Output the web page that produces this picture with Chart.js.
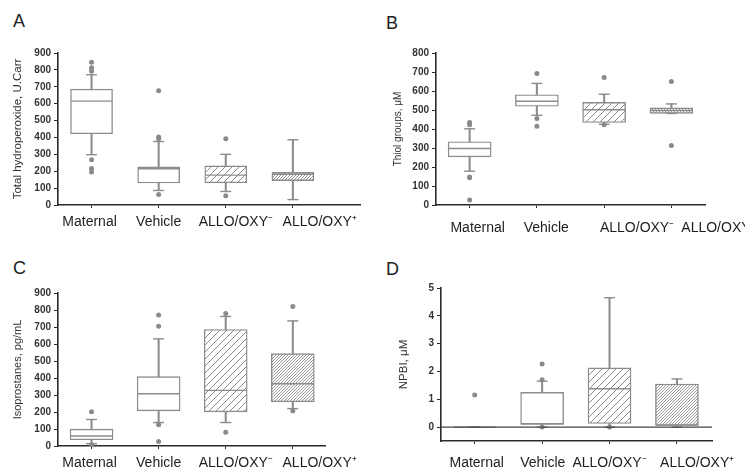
<!DOCTYPE html>
<html>
<head>
<meta charset="utf-8">
<script src="https://cdn.jsdelivr.net/npm/chart.js@4.4.0/dist/chart.umd.min.js"></script>
<style>
  body { margin: 0; background: #fff; }
  #wrap { position: relative; width: 745px; height: 469px; background: #fff; overflow: hidden; }
  #wrap canvas { position: absolute; }
  .letter { position: absolute; font: 18px "Liberation Sans", Arial, sans-serif; color: #222; line-height: 1; }
</style>
</head>
<body>
<div id="wrap">
  <div class="letter" style="left:13px; top:12px;">A</div>
  <div class="letter" style="left:386px; top:14px;">B</div>
  <div class="letter" style="left:13px; top:259px;">C</div>
  <div class="letter" style="left:386px; top:260px;">D</div>
  <canvas id="chartA" width="372" height="240" style="left:0; top:0;"></canvas>
  <canvas id="chartB" width="373" height="240" style="left:372px; top:0;"></canvas>
  <canvas id="chartC" width="372" height="240" style="left:0; top:235px;"></canvas>
  <canvas id="chartD" width="373" height="240" style="left:372px; top:235px;"></canvas>
</div>
<script>
// Group names on the x axis
const categories = ['Maternal', 'Vehicle', 'ALLO/OXY\u207B', 'ALLO/OXY\u207A'];

// A - total hydroperoxide (U.Carr)
const hpLow = [298, 86, 80, 32];
const hpQ1 = [422, 130, 132, 144];
const hpMedian = [615, 215, 177, 182];
const hpQ3 = [686, 226, 232, 193];
const hpHigh = [771, 376, 300, 386];
const hpOutliers = [[845, 812, 792, 268, 216, 196], [676, 402, 392, 62], [392, 55], []];

// B - thiol groups (uM)
const thLow = [178, 472, 425, 482];
const thQ1 = [253, 520, 434, 482];
const thMedian = [297, 546, 501, 497];
const thQ3 = [333, 580, 540, 511];
const thHigh = [401, 640, 583, 532];
const thOutliers = [[434, 422, 148, 143, 26], [692, 455, 415], [671, 422], [650, 313]];

// C - isoprostanes (pg/mL)
const isoLow = [14, 138, 138, 220];
const isoQ1 = [37, 207, 201, 260];
const isoMedian = [59, 307, 327, 366];
const isoQ3 = [99, 408, 685, 543];
const isoHigh = [156, 630, 762, 736];
const isoOutliers = [[201, 8], [770, 705, 125, 26], [780, 81], [821, 207]];

// D - NPBI (uM)
const npLow = [0, 0, 0, 0];
const npQ1 = [0, 0.1, 0.13, 0.06];
const npMedian = [0, 0.12, 1.38, 0.07];
const npQ3 = [0, 1.25, 2.13, 1.55];
const npHigh = [0, 1.65, 4.65, 1.73];
const npOutliers = [[1.15], [2.27, 1.7, 0], [0], []];

const boxGray = '#8c8c8c';
const axisColor = '#2a2a2a';
const fontFamily = '"Liberation Sans", Arial, sans-serif';

// Function to make a diagonal hatch pattern
function makeHatch(size, color, lineWidth) {
    const c = document.createElement('canvas');
    c.width = size;
    c.height = size;
    const g = c.getContext('2d');
    g.fillStyle = '#fff';
    g.fillRect(0, 0, size, size);
    g.strokeStyle = color;
    g.lineWidth = lineWidth;
    g.beginPath();
    g.moveTo(-1, size + 1);
    g.lineTo(size + 1, -1);
    g.moveTo(-1, 1);
    g.lineTo(1, -1);
    g.moveTo(size - 1, size + 1);
    g.lineTo(size + 1, size - 1);
    g.stroke();
    return g.createPattern(c, 'repeat');
}

const sparseHatch = makeHatch(7, '#8a8a8a', 1);
const denseHatch = makeHatch(3, '#8a8a8a', 0.9);
const boxFills = ['#ffffff', '#ffffff', sparseHatch, denseHatch];

// Function to build one box plot panel
function drawBoxPanel(canvasId, p) {
    const ctx = document.getElementById(canvasId).getContext('2d');
    const pos = categories.map((c, i) => i + 1);

    const datasets = [
        {
            // whiskers
            type: 'bar',
            data: pos.map((x, i) => ({ x: x, y: [p.low[i], p.high[i]] })),
            backgroundColor: boxGray,
            borderWidth: 0,
            barThickness: 1.4,
            grouped: false,
            order: 6
        },
        {
            // boxes
            type: 'bar',
            data: pos.map((x, i) => ({ x: x, y: [p.q1[i], p.q3[i]] })),
            backgroundColor: boxFills,
            borderColor: boxGray,
            borderWidth: 1.4,
            borderSkipped: false,
            barThickness: p.boxWidth,
            grouped: false,
            order: 5
        },
        {
            // medians
            type: 'line',
            data: pos.map((x, i) => ({ x: x, y: p.median[i] })),
            showLine: false,
            pointStyle: 'line',
            pointRadius: p.boxWidth / 2 - 0.5,
            pointBorderColor: boxGray,
            pointBorderWidth: 1.4,
            order: 4
        },
        {
            // whisker caps
            type: 'line',
            data: pos.flatMap((x, i) => [{ x: x, y: p.low[i] }, { x: x, y: p.high[i] }]),
            showLine: false,
            pointStyle: 'line',
            pointRadius: 5.5,
            pointBorderColor: boxGray,
            pointBorderWidth: 1.4,
            order: 4
        },
        {
            // outliers
            type: 'line',
            data: pos.flatMap((x, i) => p.outliers[i].map(v => ({ x: x, y: v }))),
            showLine: false,
            pointStyle: 'circle',
            pointRadius: 2.5,
            pointBackgroundColor: '#8a8a8a',
            pointBorderWidth: 0,
            order: 3
        }
    ];

    if (p.zeroLine) {
        datasets.push({
            type: 'line',
            data: [{ x: 0.5, y: 0 }, { x: p.xMax, y: 0 }],
            borderColor: '#444',
            borderWidth: 1.3,
            pointRadius: 0,
            order: 1
        });
    }

    // keep the chart area fixed, whatever the label widths
    const noSidePadding = scale => {
        scale.paddingLeft = 0;
        scale.paddingRight = 0;
    };

    return new Chart(ctx, {
        type: 'bar',
        data: { datasets: datasets },
        options: {
            responsive: false,
            animation: false,
            events: [],
            layout: { autoPadding: false, padding: { left: 0, top: p.top, right: p.right, bottom: 0 } },
            plugins: { legend: { display: false }, tooltip: { enabled: false } },
            scales: {
                x: {
                    type: 'linear',
                    min: 0.5,
                    max: p.xMax,
                    offset: false,
                    weight: 0,
                    afterBuildTicks: scale => {
                        scale.ticks = pos.map(v => ({ value: v }));
                    },
                    afterFit: scale => {
                        scale.height = 3;
                        noSidePadding(scale);
                    },
                    ticks: { callback: () => '', padding: 0 },
                    grid: { offset: false, drawOnChartArea: false, tickLength: 3, color: axisColor, lineWidth: 1 },
                    border: { color: axisColor, width: 1.6 }
                },
                // second bottom axis that only carries the group names;
                // the figure sets them a little right of the tick marks
                names: {
                    type: 'linear',
                    position: 'bottom',
                    min: 0.5,
                    max: p.xMax,
                    offset: false,
                    weight: 1,
                    afterBuildTicks: scale => {
                        scale.ticks = pos.map((v, i) => ({ value: v + p.labelShift[i] }));
                    },
                    afterFit: scale => {
                        scale.height = p.xHeight - 3;
                        noSidePadding(scale);
                    },
                    ticks: {
                        callback: (v, i) => categories[i],
                        autoSkip: false,
                        maxRotation: 0,
                        padding: p.labelPad,
                        color: '#1e1e1e',
                        font: { family: fontFamily, size: 14 }
                    },
                    grid: { display: false, drawTicks: false },
                    border: { display: false }
                },
                y: {
                    min: p.yMin,
                    max: p.yMax,
                    afterBuildTicks: scale => {
                        scale.ticks = scale.ticks.filter(t => t.value >= 0);
                    },
                    afterFit: scale => {
                        scale.width = p.yWidth;
                    },
                    ticks: {
                        stepSize: p.step,
                        padding: 3,
                        color: '#333',
                        font: { family: fontFamily, size: 10, weight: 'bold' }
                    },
                    grid: { drawOnChartArea: false, tickLength: 4, color: axisColor, lineWidth: 1 },
                    border: { color: axisColor, width: 1.6 },
                    title: {
                        display: true,
                        text: p.title,
                        color: '#333',
                        font: { family: fontFamily, size: p.titleSize },
                        padding: { top: p.titlePad, bottom: 0 }
                    }
                }
            }
        }
    });
}

drawBoxPanel('chartA', {
    low: hpLow, q1: hpQ1, median: hpMedian, q3: hpQ3, high: hpHigh, outliers: hpOutliers,
    title: 'Total hydroperoxide, U.Carr', titleSize: 11.5, titlePad: 10.5,
    yMin: 0, yMax: 900, step: 100,
    top: 53, right: 12, yWidth: 58, xHeight: 35, xMax: 5.0, boxWidth: 42,
    labelShift: [-0.03, 0, 0.15, 0.4], labelPad: 5.6
});

drawBoxPanel('chartB', {
    low: thLow, q1: thQ1, median: thMedian, q3: thQ3, high: thHigh, outliers: thOutliers,
    title: 'Thiol groups, \u03BCM', titleSize: 10, titlePad: 20.5,
    yMin: 0, yMax: 800, step: 100,
    top: 53, right: 40, yWidth: 64, xHeight: 35, xMax: 4.5, boxWidth: 43,
    labelShift: [0.12, 0.14, 0.49, 0.7], labelPad: 11.6
});

drawBoxPanel('chartC', {
    low: isoLow, q1: isoQ1, median: isoMedian, q3: isoQ3, high: isoHigh, outliers: isoOutliers,
    title: 'Isoprostanes, pg/mL', titleSize: 11, titlePad: 11,
    yMin: 0, yMax: 900, step: 100,
    top: 58, right: 47, yWidth: 58, xHeight: 29, xMax: 4.48, boxWidth: 43,
    labelShift: [-0.03, 0, 0.15, 0.4], labelPad: 5.6
});

drawBoxPanel('chartD', {
    low: npLow, q1: npQ1, median: npMedian, q3: npQ3, high: npHigh, outliers: npOutliers,
    title: 'NPBI, \u03BCM', titleSize: 11.5, titlePad: 25,
    yMin: -0.5, yMax: 5, step: 1,
    top: 53, right: 33, yWidth: 69, xHeight: 34, xMax: 4.52, boxWidth: 43,
    labelShift: [0.03, 0.01, 0, 0.3], labelPad: 10.6,
    zeroLine: true
});
</script>
</body>
</html>
